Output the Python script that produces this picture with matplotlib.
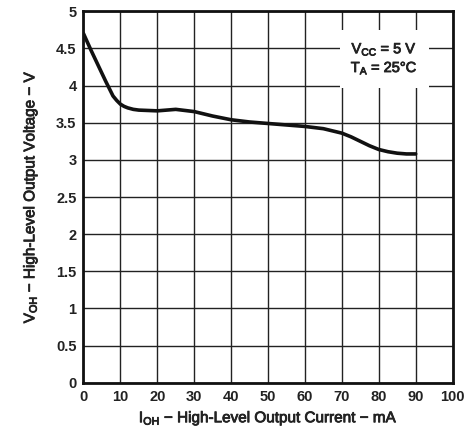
import matplotlib
matplotlib.use("Agg")
import matplotlib.pyplot as plt
import matplotlib.patheffects as pe

plt.rcParams['font.family'] = ['Liberation Sans', 'DejaVu Sans']
plt.rcParams['mathtext.fontset'] = 'custom'
plt.rcParams['mathtext.rm'] = 'Liberation Sans'
plt.rcParams['mathtext.it'] = 'Liberation Sans'
plt.rcParams['mathtext.bf'] = 'Liberation Sans:bold'

# I_OH (mA) vs V_OH (V)
i_oh = [0, 2, 4, 6, 8, 9, 10, 11, 12, 13.5, 15, 20, 25, 30, 35, 40, 45,
        50, 55, 60, 65, 70, 72.5, 75, 77.5, 80, 82.5, 85, 87.5, 90]
v_oh = [4.70, 4.48, 4.27, 4.06, 3.86, 3.80, 3.75, 3.72, 3.70, 3.68, 3.67, 3.66, 3.68, 3.65, 3.59,
        3.54, 3.51, 3.49, 3.47, 3.45, 3.42, 3.36, 3.31, 3.25, 3.19, 3.14, 3.11, 3.09, 3.08, 3.08]

x_ticks = [0, 10, 20, 30, 40, 50, 60, 70, 80, 90, 100]
y_ticks = [0, 0.5, 1, 1.5, 2, 2.5, 3, 3.5, 4, 4.5, 5]
y_labels = ['0', '0.5', '1', '1.5', '2', '2.5', '3', '3.5', '4', '4.5', '5']

thick = [pe.withStroke(linewidth=0.6, foreground='#222222')]

fig = plt.figure(figsize=(4.69, 4.34), dpi=100)
ax = fig.add_axes([0.178, 0.118, 0.787, 0.856])

ax.plot(i_oh, v_oh, color='#111111', lw=2.6, solid_capstyle='round',
        solid_joinstyle='round', zorder=3)

ax.set_xlim(0, 100)
ax.set_ylim(0, 5)
ax.set_xticks(x_ticks)
ax.set_yticks(y_ticks)
ax.set_xticklabels([str(t) for t in x_ticks], fontweight='bold', fontsize=10.5)
ax.set_yticklabels(y_labels, fontweight='bold', fontsize=10.5)
ax.tick_params(length=0, pad=5, labelcolor='#222222')
ax.grid(True, color='#222222', lw=1.0)
for s in ax.spines.values():
    s.set_linewidth(2.0)
    s.set_color('#111111')

ax.set_xlabel(r'I$_{\mathrm{OH}}$ $-$ High-Level Output Current $-$ mA', fontsize=11,
              labelpad=4, color='#222222', path_effects=thick)
ax.set_ylabel(r'V$_{\mathrm{OH}}$ $-$ High-Level Output Voltage $-$ V', fontsize=11,
              labelpad=12, color='#222222', path_effects=thick)

ax.text(81.5, 4.36, 'V$_{\\mathrm{CC}}$ = 5 V\nT$_{\\mathrm{A}}$ = 25°C', ha='center', va='center',
        fontsize=10.5, linespacing=1.2, zorder=4, color='#222222', path_effects=thick,
        bbox=dict(facecolor='white', edgecolor='none', pad=8))

fig.savefig('out.png', dpi=100)
